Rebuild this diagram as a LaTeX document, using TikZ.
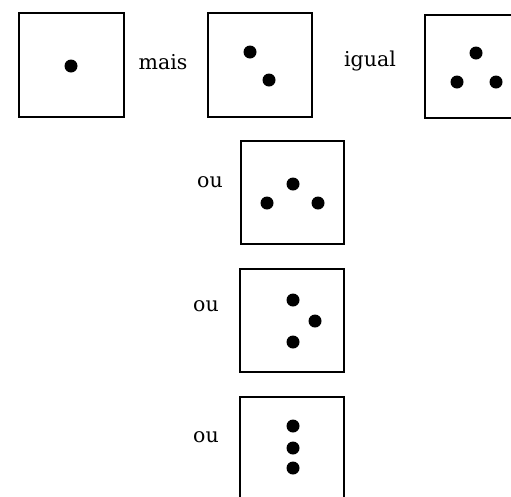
\documentclass[tikz,border=0pt]{standalone}
\usepackage{fontspec}
\setmainfont{DejaVu Serif}
\begin{document}
\begin{tikzpicture}[x=1pt,y=-1pt,
  card/.style={draw=black,line width=2.2pt,fill=white},
  pip/.style={fill=black},
  word/.style={font=\fontsize{20.5}{24}\selectfont,inner sep=0pt}]
\useasboundingbox (0,0) rectangle (511,496);
\clip (0,0) rectangle (511,496);
% top row
\draw[card] (19,13) rectangle (124,117);
\fill[pip] (71,66) circle (6.5);
\node[word] (mais) at (163,62) {mais};
\draw[card] (208,13) rectangle (312,117);
\fill[pip] (250,52) circle (6.5);
\fill[pip] (269,80) circle (6.5);
\node[word] (igual) at (370,61) {igual};
\draw[card] (425,15) rectangle (530,118);
\fill[pip] (476,53) circle (6.5);
\fill[pip] (457,82) circle (6.5);
\fill[pip] (496,82) circle (6.5);
% column
\node[word] (ou1) at (210,182) {ou};
\draw[card] (241,141) rectangle (344,244);
\fill[pip] (293,184) circle (6.5);
\fill[pip] (267,203) circle (6.5);
\fill[pip] (318,203) circle (6.5);
\node[word] (ou2) at (206,306) {ou};
\draw[card] (240,269) rectangle (344,372);
\fill[pip] (293,300) circle (6.5);
\fill[pip] (315,321) circle (6.5);
\fill[pip] (293,342) circle (6.5);
\node[word] (ou3) at (206,437) {ou};
\draw[card] (240,397) rectangle (344,510);
\fill[pip] (293,426) circle (6.5);
\fill[pip] (293,448) circle (6.5);
\fill[pip] (293,468) circle (6.5);
\end{tikzpicture}
\end{document}
